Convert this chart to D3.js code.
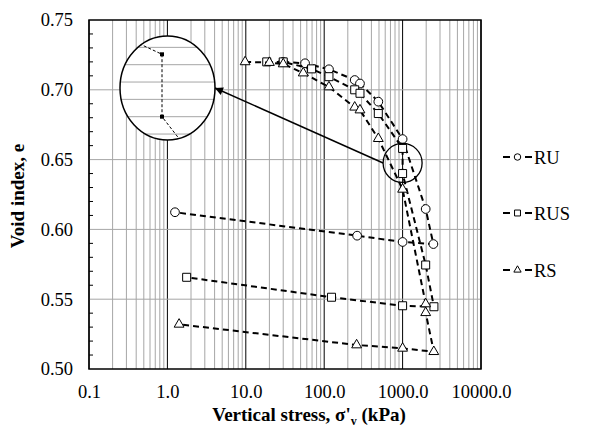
<!DOCTYPE html>
<html lang="en">
<head>
    <meta charset="UTF-8">
    <title>Void index vs vertical stress</title>
    <style>
        body { margin: 0; background: #fff; }
        #chart { width: 592px; height: 437px; display: block; }
        text { font-family: "Liberation Serif", "Times New Roman", serif; fill: #000; }
        .grid-minor { stroke: #a6a6a6; stroke-width: 1; }
        .grid-major { stroke: #000; stroke-width: 1; }
        .series { fill: none; stroke: #000; stroke-width: 2; stroke-dasharray: 6,4; }
        .marker { fill: #fff; stroke: #000; stroke-width: 1; }
    </style>
</head>
<body>
    <svg id="chart" width="592" height="437"></svg>

    <script src="https://d3js.org/d3.v7.min.js"></script>
    <script>
        // data (stress in kPa, void index e)
        const ruStress = [30, 57, 115, 245, 286, 490, 1000, 1970, 2470, 1000, 263, 1.25];
        const ruVoid = [0.720, 0.719, 0.7147, 0.707, 0.7045, 0.6915, 0.6647, 0.6146, 0.5895, 0.591, 0.5955, 0.6123];

        const rusStress = [18.5, 30, 69, 115, 245, 286, 490, 1000, 1000, 1970, 2510, 1000, 124, 1.76];
        const rusVoid = [0.720, 0.720, 0.715, 0.7094, 0.700, 0.6975, 0.683, 0.658, 0.640, 0.5745, 0.5446, 0.5453, 0.5514, 0.5657];

        const rsStress = [9.8, 20, 30, 54, 115, 245, 286, 490, 1000, 1970, 1970, 2500, 1000, 259, 1.41];
        const rsVoid = [0.720, 0.7195, 0.7185, 0.712, 0.702, 0.6875, 0.6855, 0.665, 0.6287, 0.5466, 0.5403, 0.5124, 0.5148, 0.5172, 0.532];

        const xTicks = [0.1, 1, 10, 100, 1000, 10000];
        const yTicks = [0.50, 0.55, 0.60, 0.65, 0.70, 0.75];
        const seriesNames = ["RU", "RUS", "RS"];

        const svg = d3.select("#chart");
        const margin = { top: 20, right: 111, bottom: 68, left: 89 };
        const width = 592 - margin.left - margin.right;
        const height = 437 - margin.top - margin.bottom;

        // log x, linear y
        const x = d3.scaleLog().domain([0.1, 10000]).range([margin.left, margin.left + width]);
        const y = d3.scaleLinear().domain([0.5, 0.75]).range([margin.top + height, margin.top]);

        const series = [
            { name: "RU", stress: ruStress, e: ruVoid, shape: d3.symbolCircle, size: 60 },
            { name: "RUS", stress: rusStress, e: rusVoid, shape: d3.symbolSquare, size: 64 },
            { name: "RS", stress: rsStress, e: rsVoid, shape: d3.symbolTriangle, size: 42 }
        ];

        // vertical grid: every 1..9 x decade
        const logLines = [];
        for (let k = -1; k <= 4; k++) {
            for (let m = 1; m <= 9; m++) {
                const v = m * Math.pow(10, k);
                if (v <= 10000.0001) logLines.push({ v: v, major: m === 1 });
            }
        }
        const grid = svg.append("g");
        grid.selectAll(".vline").data(logLines).enter().append("line")
            .attr("class", d => d.major ? "grid-major" : "grid-minor")
            .attr("x1", d => x(d.v)).attr("x2", d => x(d.v))
            .attr("y1", margin.top).attr("y2", margin.top + height);

        grid.selectAll(".hline").data(yTicks.slice(1, -1)).enter().append("line")
            .attr("class", "grid-minor")
            .attr("x1", margin.left).attr("x2", margin.left + width)
            .attr("y1", d => y(d)).attr("y2", d => y(d));

        // frame
        svg.append("rect")
            .attr("x", margin.left).attr("y", margin.top)
            .attr("width", width).attr("height", height)
            .attr("fill", "none").attr("stroke", "#000").attr("stroke-width", 1.5);

        // y axis minor ticks, pointing inwards
        const yMinor = d3.range(0.51, 0.75, 0.01).filter(v => Math.abs(v * 20 - Math.round(v * 20)) > 0.01);
        svg.append("g").selectAll("line").data(yMinor).enter().append("line")
            .attr("x1", margin.left).attr("x2", margin.left + 4)
            .attr("y1", d => y(d)).attr("y2", d => y(d))
            .attr("stroke", "#000").attr("stroke-width", 1);

        // tick labels via axis generators, lines hidden
        const xAxis = d3.axisBottom(x).tickValues(xTicks).tickFormat(d => d.toFixed(1)).tickSize(0).tickPadding(16);
        const yAxis = d3.axisLeft(y).tickValues(yTicks).tickFormat(d3.format(".2f")).tickSize(0).tickPadding(16);
        const gx = svg.append("g").attr("transform", `translate(0,${margin.top + height})`).call(xAxis);
        const gy = svg.append("g").attr("transform", `translate(${margin.left},0)`).call(yAxis);
        [gx, gy].forEach(g => {
            g.select(".domain").remove();
            g.selectAll("text").style("font-family", "'Liberation Serif', serif").style("font-size", "18.5px");
        });

        // series lines + markers
        const line = d3.line().x(d => x(d[0])).y(d => y(d[1]));
        series.forEach(s => {
            const pts = s.stress.map((v, i) => [v, s.e[i]]);
            svg.append("path").datum(pts).attr("class", "series").attr("d", line);
            svg.append("g").selectAll("path").data(pts).enter().append("path")
                .attr("class", "marker")
                .attr("d", d3.symbol().type(s.shape).size(s.size))
                .attr("transform", d => `translate(${x(d[0])},${y(d[1])})`);
        });

        // magnifier circle around 1000 kPa, e = 0.648
        const zoomCx = x(1000), zoomCy = y(0.6476), zoomR = 19.5;
        svg.append("circle")
            .attr("cx", zoomCx).attr("cy", zoomCy).attr("r", zoomR)
            .attr("fill", "none").attr("stroke", "#000").attr("stroke-width", 1.3);

        // inset: magnified view of RUS at 1000 kPa
        const inset = { cx: 167.5, cy: 88, rx: 47.5, ry: 52 };
        const xi = d3.scaleLog().domain([1000 / Math.sqrt(10), 1000 * Math.sqrt(10)]).range([162 - 300, 162 + 300]);
        const yi = d3.scaleLinear().domain([0.640, 0.658]).range([116.7, 54.3]);

        svg.append("clipPath").attr("id", "insetClip")
            .append("ellipse").attr("cx", inset.cx).attr("cy", inset.cy).attr("rx", inset.rx).attr("ry", inset.ry);
        svg.append("ellipse")
            .attr("cx", inset.cx).attr("cy", inset.cy).attr("rx", inset.rx).attr("ry", inset.ry)
            .attr("fill", "#fff");
        const gi = svg.append("g").attr("clip-path", "url(#insetClip)");
        gi.selectAll("line").data(d3.range(0.625, 0.676, 0.005)).enter().append("line")
            .attr("x1", inset.cx - inset.rx).attr("x2", inset.cx + inset.rx)
            .attr("y1", d => yi(d)).attr("y2", d => yi(d))
            .attr("stroke", "#a6a6a6").attr("stroke-width", 1);
        const rusPts = rusStress.map((v, i) => [v, rusVoid[i]]).slice(6, 10);
        gi.append("path").datum(rusPts)
            .attr("d", d3.line().x(d => xi(d[0])).y(d => yi(d[1])))
            .attr("fill", "none").attr("stroke", "#000").attr("stroke-width", 1).attr("stroke-dasharray", "3,2");
        gi.selectAll("rect").data(rusPts.slice(1, 3)).enter().append("rect")
            .attr("x", d => xi(d[0]) - 2).attr("y", d => yi(d[1]) - 2)
            .attr("width", 4).attr("height", 4).attr("fill", "#000");
        svg.append("ellipse")
            .attr("cx", inset.cx).attr("cy", inset.cy).attr("rx", inset.rx).attr("ry", inset.ry)
            .attr("fill", "none").attr("stroke", "#000").attr("stroke-width", 1.5);

        // arrow from magnifier to inset
        svg.append("defs").append("marker")
            .attr("id", "arrow").attr("viewBox", "0 0 10 10")
            .attr("refX", 10).attr("refY", 5)
            .attr("markerWidth", 10).attr("markerHeight", 8)
            .attr("markerUnits", "userSpaceOnUse")
            .attr("orient", "auto")
            .append("path").attr("d", "M0,0L10,5L0,10Z").attr("fill", "#000");
        svg.append("line")
            .attr("x1", zoomCx - zoomR).attr("y1", zoomCy)
            .attr("x2", inset.cx + inset.rx).attr("y2", inset.cy)
            .attr("stroke", "#000").attr("stroke-width", 1.5)
            .attr("marker-end", "url(#arrow)");

        // legend
        const legendY = [157, 213, 270];
        const lg = svg.append("g");
        series.forEach((s, i) => {
            const g = lg.append("g").attr("transform", `translate(503,${legendY[i]})`);
            g.append("line").attr("x1", 0).attr("x2", 7).attr("y1", 0).attr("y2", 0)
                .attr("stroke", "#000").attr("stroke-width", 2);
            g.append("line").attr("x1", 22).attr("x2", 29).attr("y1", 0).attr("y2", 0)
                .attr("stroke", "#000").attr("stroke-width", 2);
            g.append("path").attr("class", "marker")
                .attr("d", d3.symbol().type(s.shape).size(s.size * 0.55))
                .attr("transform", "translate(14.5,0)");
            g.append("text").attr("x", 31).attr("y", 6.5)
                .style("font-size", "18.5px").text(seriesNames[i]);
        });

        // axis titles
        svg.append("text")
            .attr("transform", "translate(24,196) rotate(-90)")
            .attr("text-anchor", "middle")
            .style("font-size", "19px").style("font-weight", "bold")
            .text("Void index, e");

        const xt = svg.append("text")
            .attr("x", 309).attr("y", 421)
            .attr("text-anchor", "middle")
            .style("font-size", "19px").style("font-weight", "bold");
        xt.append("tspan").text("Vertical stress, σ'");
        xt.append("tspan").attr("dy", 4).style("font-size", "12px").text("v");
        xt.append("tspan").attr("dy", -4).text(" (kPa)");
    </script>
</body>
</html>
